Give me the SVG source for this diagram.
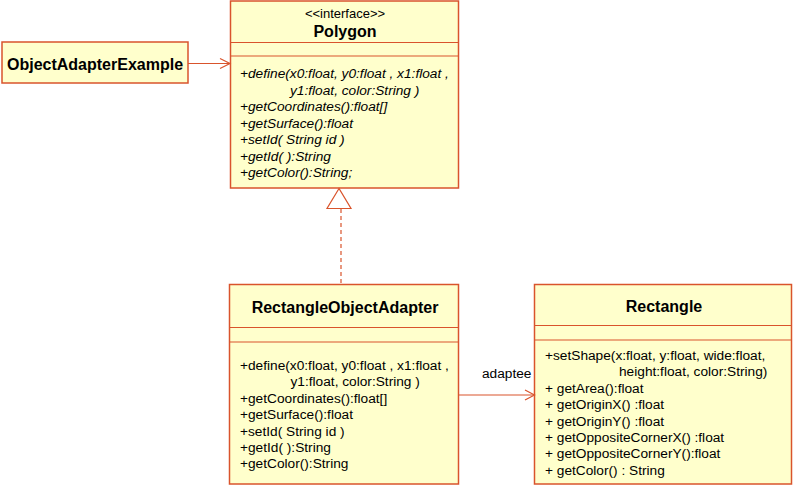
<svg xmlns="http://www.w3.org/2000/svg" width="796" height="487" viewBox="0 0 796 487">
<style>
.box{fill:#FFFFCC;stroke:#D9542C;stroke-width:1.5}
.sep{stroke:#D9542C;stroke-width:1.2;fill:none}
.t{font-family:"Liberation Sans",Arial,sans-serif;font-size:13.7px;fill:#000}
.i{font-style:italic}
.b{font-family:"Liberation Sans",Arial,sans-serif;font-size:16px;font-weight:bold;fill:#000;text-anchor:middle}
.c{stroke:#D9542C;stroke-width:1.2;fill:none}
</style>
<rect width="796" height="487" fill="#fff"/>
<g id="ObjectAdapterExample">
<rect class="box" x="2" y="42" width="186" height="41"/>
<text class="b" x="95" y="70">ObjectAdapterExample</text>
</g>
<g id="Polygon">
<rect class="box" x="230.5" y="1" width="228" height="187"/>
<line class="sep" x1="230.5" y1="42.5" x2="458.5" y2="42.5"/>
<line class="sep" x1="230.5" y1="56" x2="458.5" y2="56"/>
<text class="t" x="345" y="18" text-anchor="middle" style="font-size:13px">&lt;&lt;interface&gt;&gt;</text>
<text class="b" x="345" y="37">Polygon</text>
<text class="t i" x="240" y="78">+define(x0:float, y0:float , x1:float ,</text>
<text class="t i" x="290" y="94.5">y1:float, color:String )</text>
<text class="t i" x="240" y="111">+getCoordinates():float[]</text>
<text class="t i" x="240" y="127.5">+getSurface():float</text>
<text class="t i" x="240" y="144">+setId( String id )</text>
<text class="t i" x="240" y="160.5">+getId( ):String</text>
<text class="t i" x="240" y="177">+getColor():String;</text>
</g>
<g id="RectangleObjectAdapter">
<rect class="box" x="229.5" y="284.5" width="229" height="199.5"/>
<line class="sep" x1="229.5" y1="327.5" x2="458.5" y2="327.5"/>
<line class="sep" x1="229.5" y1="342" x2="458.5" y2="342"/>
<text class="b" x="345" y="313">RectangleObjectAdapter</text>
<text class="t" x="240" y="370">+define(x0:float, y0:float , x1:float ,</text>
<text class="t" x="290.5" y="386.4">y1:float, color:String )</text>
<text class="t" x="240" y="402.8">+getCoordinates():float[]</text>
<text class="t" x="240" y="419.2">+getSurface():float</text>
<text class="t" x="240" y="435.6">+setId( String id )</text>
<text class="t" x="240" y="452">+getId( ):String</text>
<text class="t" x="240" y="468.4">+getColor():String</text>
</g>
<g id="Rectangle">
<rect class="box" x="534.5" y="284.5" width="257" height="199.5"/>
<line class="sep" x1="534.5" y1="325.5" x2="791.5" y2="325.5"/>
<line class="sep" x1="534.5" y1="340" x2="791.5" y2="340"/>
<text class="b" x="664" y="311.5">Rectangle</text>
<text class="t" x="545" y="360">+setShape(x:float, y:float, wide:float,</text>
<text class="t" x="619" y="376.4">height:float, color:String)</text>
<text class="t" x="545" y="392.8">+ getArea():float</text>
<text class="t" x="545" y="409.2">+ getOriginX() :float</text>
<text class="t" x="545" y="425.6">+ getOriginY() :float</text>
<text class="t" x="545" y="442">+ getOppositeCornerX() :float</text>
<text class="t" x="545" y="458.4">+ getOppositeCornerY():float</text>
<text class="t" x="545" y="474.8">+ getColor() : String</text>
</g>
<g id="connectors">
<line class="c" x1="188" y1="63.5" x2="230" y2="63.5"/>
<polyline class="c" points="220,58.5 230,63.5 220,68.5"/>
<line class="c" x1="341" y1="209" x2="341" y2="284" stroke-dasharray="4,3"/>
<polygon class="c" fill="#fff" points="339,188.5 327,208.5 351,208.5"/>
<line class="c" x1="458.5" y1="395" x2="534.5" y2="395"/>
<polyline class="c" points="525,390 534.5,395 525,400"/>
<text class="t" x="482" y="378">adaptee</text>
</g>
</svg>
